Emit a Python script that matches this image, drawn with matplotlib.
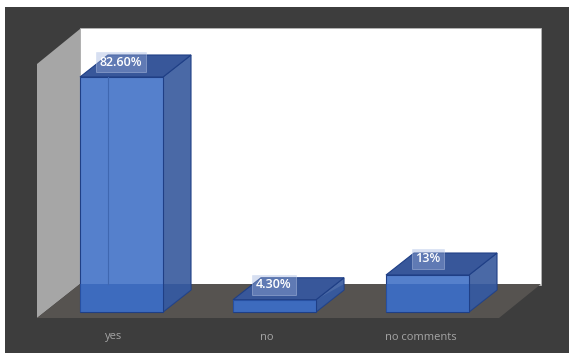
import matplotlib
matplotlib.use("Agg")
import matplotlib.pyplot as plt
from matplotlib.patches import Polygon, Rectangle

categories = ["yes", "no", "no comments"]
values = [82.6, 4.3, 13.0]
value_labels = ["82.60%", "4.30%", "13%"]

W, H = 569, 353
fig = plt.figure(figsize=(W / 100, H / 100), dpi=100, facecolor="white")
ax = fig.add_axes([0, 0, 1, 1])
ax.set_xlim(0, W)
ax.set_ylim(H, 0)
ax.axis("off")

BASE = 312.0
SCALE = 235.0 / 82.6
DX, DY = 28, -22
BAR_W = 83
FLOOR_BACK = 284
LEFTS = [80, 233, 386]
LABEL_POS = [(121, 62), (274, 285), (428, 259)]
CAT_X = [114, 267, 421]

ax.add_patch(Rectangle((5, 7), 564, 346, fc="#3d3d3d", ec="none", zorder=0))
ax.add_patch(Rectangle((80, 28), 461, 257, fc="white", ec="#b5b5b5", lw=0.6, zorder=1))
ax.add_patch(Polygon([(37, 64), (80, 29), (80, FLOOR_BACK), (37, 318)], fc="#a6a6a6", ec="none", zorder=2))
ax.add_patch(Polygon([(80, FLOOR_BACK), (541, FLOOR_BACK), (499, 318), (37, 318)], fc="#565350", ec="none", zorder=2))

EDGE = "#1f3f86"
for x, v, lab, cat, (lx, ly), cx in zip(LEFTS, values, value_labels, categories, LABEL_POS, CAT_X):
    top = BASE - v * SCALE
    r = x + BAR_W
    ax.add_patch(Polygon([(r, top), (r + DX, top + DY), (r + DX, BASE + DY), (r, BASE)],
                         fc="#4a69a6", ec=EDGE, lw=0.8, zorder=3))
    ax.add_patch(Polygon([(r, max(top, FLOOR_BACK)), (r + DX, max(top + DY, FLOOR_BACK)),
                          (r + DX, BASE + DY), (r, BASE)],
                         fc="#2b4f96", alpha=0.6, ec="none", zorder=3))
    ax.add_patch(Polygon([(x, top), (x + DX, top + DY), (r + DX, top + DY), (r, top)],
                         fc="#38579a", ec=EDGE, lw=0.8, zorder=4))
    ax.add_patch(Rectangle((x, top), BAR_W, v * SCALE, fc="#5580cc", ec=EDGE, lw=0.8, zorder=4))
    band_top = max(top, FLOOR_BACK)
    ax.add_patch(Rectangle((x, band_top), BAR_W, BASE - band_top, fc="#2d5db5", alpha=0.6, ec="none", zorder=5))
    if v > 50:
        ax.plot([x + 28, x + 28], [top, FLOOR_BACK], color="#3f67b0", lw=0.8, zorder=5)
    ax.text(lx, ly, lab, color="white", ha="center", va="center", fontsize=9, fontweight="semibold",
            family="Open Sans", zorder=7,
            bbox=dict(boxstyle="square,pad=0.3", fc="#9db1dc", alpha=0.4, ec="#c6d3ee", lw=0.7))
    ax.text(cx, 337, cat, color="#a5a5a5", ha="center", va="center", fontsize=8, family="Open Sans", zorder=7)

fig.savefig("out.png", dpi=100, facecolor="white")
